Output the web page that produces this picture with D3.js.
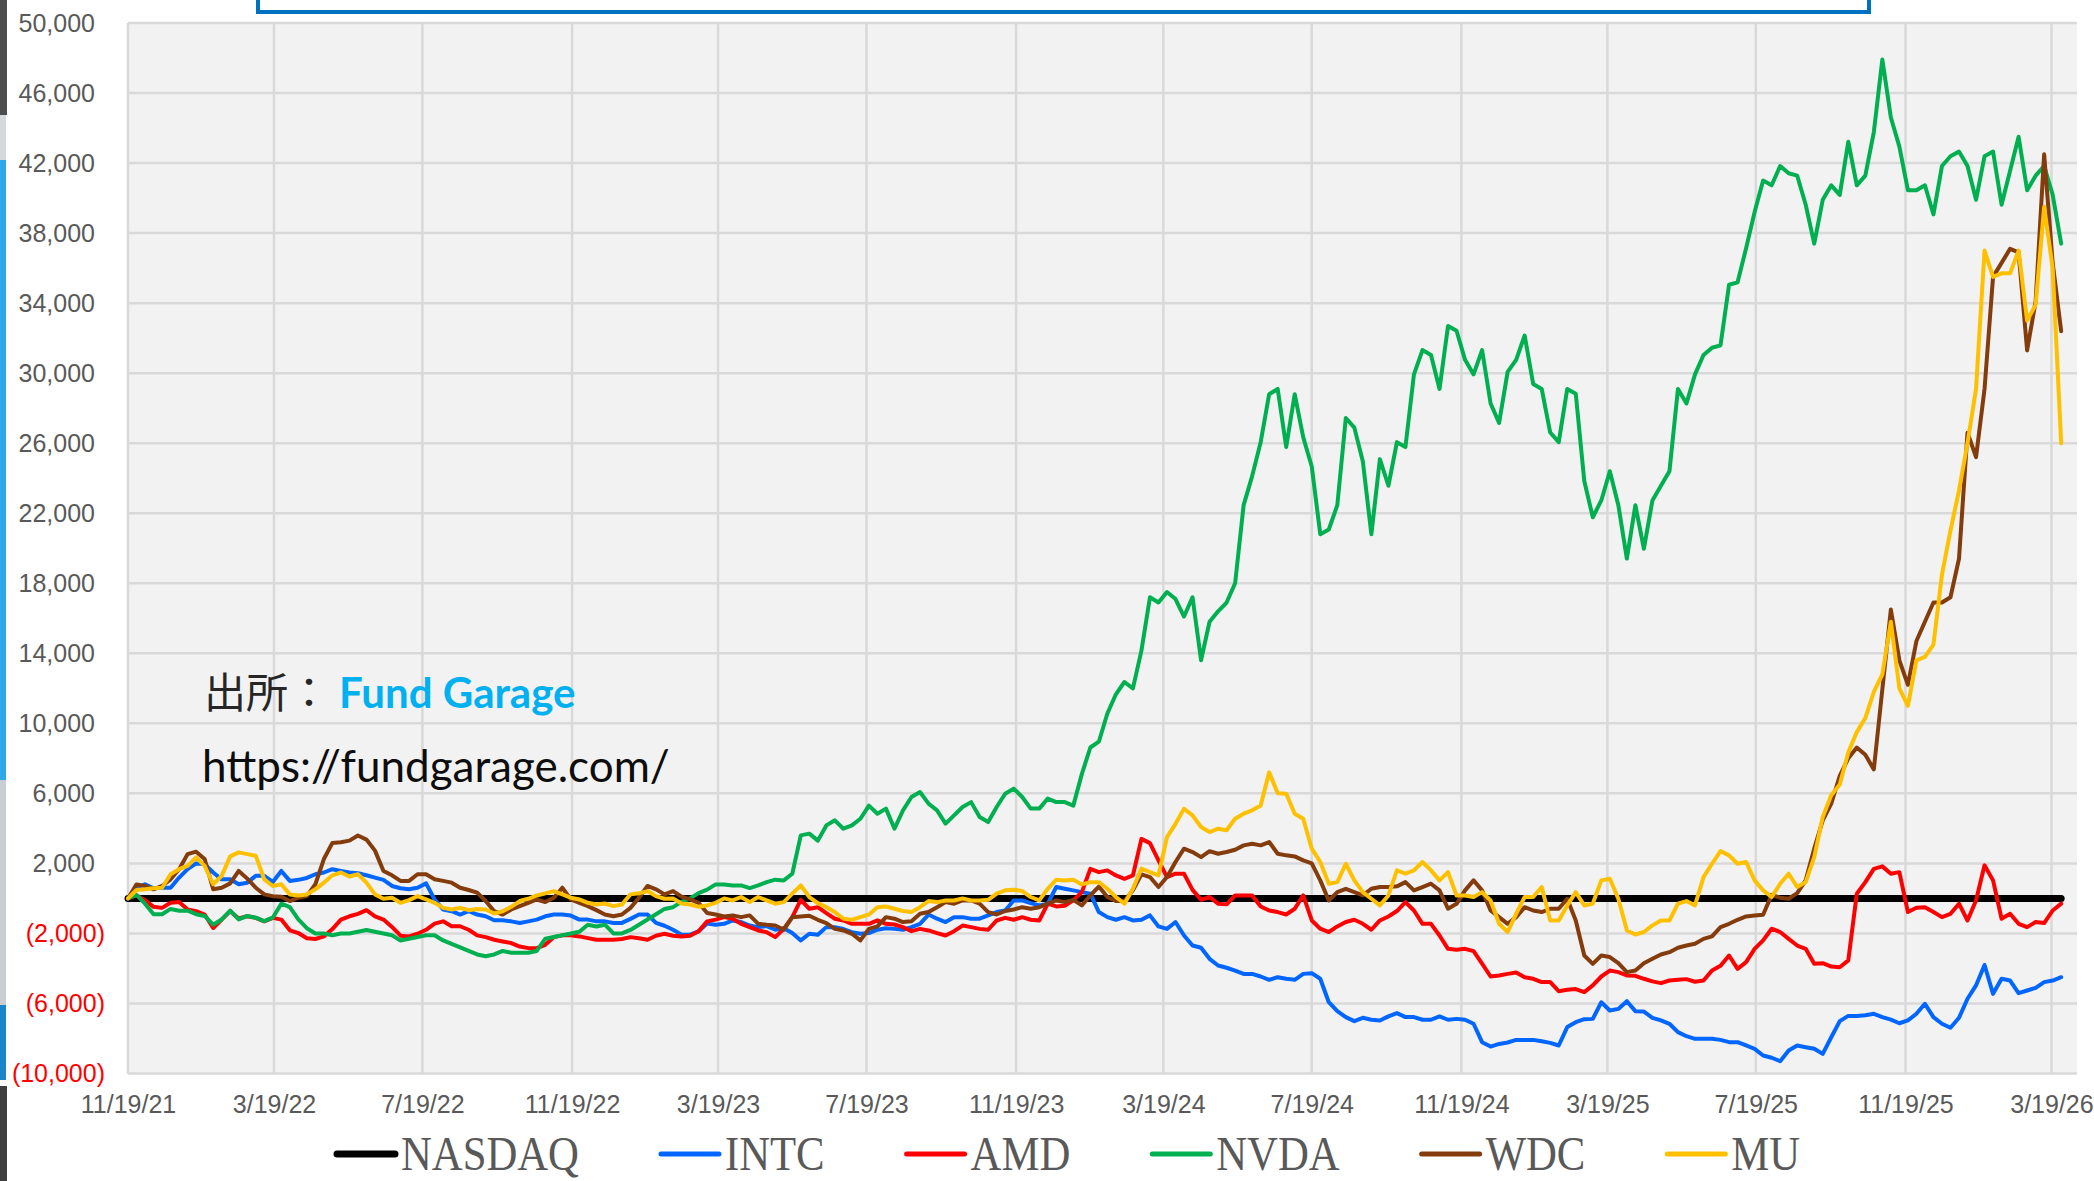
<!DOCTYPE html>
<html>
<head>
<meta charset="utf-8">
<script src="https://cdn.jsdelivr.net/npm/d3@7"></script>
<style>
  body { margin: 0; background: #fff; }
  svg { display: block; }
</style>
</head>
<body>
<div id="chartContainer"></div>
<script>
// weekly closes, difference vs NASDAQ (rebased), starting 11/19/21
var START_DATE = "2021-11-19";
var STEP_DAYS = 7;
var X_END = "2026-04-09";

var X_TICKS = ["11/19/21", "3/19/22", "7/19/22", "11/19/22", "3/19/23", "7/19/23", "11/19/23",
  "3/19/24", "7/19/24", "11/19/24", "3/19/25", "7/19/25", "11/19/25", "3/19/26"];
var Y_TICKS = [50000, 46000, 42000, 38000, 34000, 30000, 26000, 22000, 18000, 14000, 10000, 6000, 2000, -2000, -6000, -10000];

var SERIES_NAMES = ["NASDAQ", "INTC", "AMD", "NVDA", "WDC", "MU"];

// NASDAQ is the base line: first and last week
var NASDAQ_WEEKS = [0, 227];
var NASDAQ = [0, 0];

var INTC = [
  0, 610, 810, 580, 610, 610, 1190, 1670, 2000, 1960,
  1480, 1090, 1090, 810, 900, 1290, 1290, 940, 1570, 1000,
  1060, 1170, 1380, 1480, 1670, 1570, 1480, 1440, 1320, 1190,
  1060, 710, 580, 520, 610, 860, -60, -630, -730, -920,
  -730, -920, -1020, -1250, -1250, -1310, -1400, -1310, -1210, -1020,
  -920, -920, -980, -1210, -1210, -1310, -1310, -1400, -1400, -1170,
  -920, -920, -1400, -1560, -1790, -2070, -2070, -1880, -1440, -1500,
  -1450, -1260, -1350, -1550, -1640, -1580, -1790, -1700, -1980, -2400,
  -2020, -2080, -1640, -1640, -1750, -1930, -2020, -1980, -1790, -1700,
  -1740, -1790, -1640, -1450, -920, -1160, -1350, -1070, -1070, -1160,
  -1160, -970, -780, -690, -115, -115, -270, -400, -300, 650,
  550, 460, 360, 270, -780, -1070, -1220, -1070, -1260, -1220,
  -970, -1600, -1740, -1350, -2120, -2690, -2820, -3450, -3830, -3960,
  -4120, -4310, -4310, -4460, -4650, -4500, -4590, -4650, -4310, -4270,
  -4590, -5930, -6440, -6780, -7010, -6820, -6930, -6970, -6740, -6550,
  -6780, -6780, -6930, -6930, -6740, -6930, -6880, -6930, -7160, -8210,
  -8460, -8310, -8230, -8080, -8080, -8080, -8160, -8250, -8400, -7350,
  -7070, -6900, -6880, -5930, -6400, -6310, -5870, -6440, -6460, -6820,
  -6970, -7160, -7640, -7870, -8020, -8020, -8020, -8080, -8210, -8210,
  -8400, -8590, -8970, -9100, -9300, -8690, -8400, -8500, -8590, -8880,
  -7930, -7010, -6710, -6710, -6670, -6590, -6780, -6920, -7130, -6970,
  -6590, -6020, -6780, -7160, -7390, -6820, -5730, -4970, -3800, -5450,
  -4590, -4690, -5410, -5260, -5110, -4780, -4690, -4500
];

var AMD = [
  0, 170, -100, -480, -540, -250, -210, -630, -730, -920,
  -1690, -1210, -730, -1150, -1020, -1110, -1310, -1110, -1210, -1820,
  -1980, -2270, -2320, -2170, -1750, -1210, -1020, -880, -670, -1020,
  -1210, -1630, -2130, -2170, -2020, -1790, -1440, -1310, -1590, -1590,
  -1790, -2110, -2210, -2360, -2460, -2550, -2750, -2840, -2840, -2650,
  -2210, -2110, -2110, -2170, -2270, -2360, -2360, -2360, -2320, -2210,
  -2270, -2360, -2130, -2020, -2130, -2170, -2130, -1880, -1310, -1210,
  -1070, -1160, -1450, -1640, -1830, -1930, -2210, -1740, -1070, -80,
  -590, -500, -840, -1160, -1260, -1450, -1450, -1450, -1260, -1450,
  -1490, -1640, -1870, -1740, -1830, -1980, -2120, -1870, -1550, -1640,
  -1740, -1790, -1260, -1110, -1220, -1070, -1220, -1260, -300, -460,
  -420, -115, 360, 1690, 1500, 1600, 1310, 1120, 1310, 3400,
  3160, 2170, 1220, 1410, 1410, 490, -80, 80, -300, -340,
  170, 170, 170, -460, -690, -780, -920, -590, 170, -1260,
  -1730, -1920, -1600, -1350, -1220, -1450, -1790, -1260, -1030, -720,
  -210, -690, -1450, -1450, -2120, -2880, -2930, -2880, -3010, -3730,
  -4460, -4400, -4310, -4230, -4500, -4590, -4780, -4780, -5300, -5220,
  -5180, -5350, -4970, -4460, -4120, -4210, -4400, -4420, -4590, -4740,
  -4840, -4690, -4650, -4610, -4760, -4690, -4120, -3850, -3260, -4020,
  -3640, -2880, -2400, -1730, -1920, -2310, -2690, -2880, -3730, -3700,
  -3890, -3930, -3540, 270, 930, 1690, 1830, 1410, 1500, -780,
  -530, -500, -780, -1070, -880, -300, -1260, -120, 1890, 1030,
  -1160, -880, -1450, -1640, -1350, -1410, -690, -300
];

var NVDA = [
  0, 200, -300, -900, -900, -600, -700, -700, -900, -1000,
  -1500, -1200, -700, -1200, -1000, -1100, -1300, -1100, -300, -500,
  -1200, -1700, -2000, -2000, -2100, -2000, -2000, -1900, -1800, -1900,
  -2000, -2100, -2400, -2300, -2200, -2100, -2100, -2400, -2600, -2800,
  -3000, -3200, -3300, -3200, -3000, -3100, -3100, -3100, -3000, -2300,
  -2200, -2100, -2000, -1900, -1500, -1600, -1500, -2000, -2000, -1800,
  -1500, -1200, -900, -600, -500, -200, 0, 300, 500, 800,
  800, 740, 740, 590, 740, 930, 1070, 1030, 1410, 3600,
  3700, 3300, 4170, 4460, 3980, 4170, 4550, 5300, 4840, 5130,
  3980, 5030, 5790, 6080, 5410, 5030, 4270, 4740, 5220, 5500,
  4650, 4360, 5220, 5980, 6270, 5790, 5130, 5130, 5700, 5500,
  5500, 5300, 7100, 8620, 8950, 10560, 11660, 12360, 12000, 14150,
  17200, 16900, 17500, 17100, 16100, 17200, 13600, 15800, 16400, 16900,
  18000, 22460, 24120, 26060, 28800, 29100, 25780, 28800, 26330, 24670,
  20800, 21070, 22460, 27440, 26890, 24950, 20800, 25090, 23570, 26060,
  25780, 29930, 31320, 31040, 29100, 32700, 32420, 30760, 29930, 31320,
  28270, 27160, 30070, 30760, 32150, 29380, 29100, 26610, 26060, 29100,
  28830, 23840, 21770, 22730, 24400, 22460, 19410, 22460, 19970, 22730,
  23570, 24400, 29100, 28270, 29930, 31040, 31450, 31590, 35050, 35190,
  37130, 39200, 41000, 40730, 41830, 41420, 41280, 39620, 37400, 39900,
  40730, 40180, 43220, 40730, 41280, 43770, 47920, 44600, 42940, 40450,
  40450, 40730, 39070, 41830, 42390, 42660, 41830, 39900, 42390, 42660,
  39620, 41560, 43500, 40450, 41280, 41830, 40180, 37400
];

var WDC = [
  0, 800, 710, 520, 710, 1090, 1670, 2530, 2670, 2250,
  520, 610, 860, 1570, 1130, 610, 230, 130, 100, -150,
  40, 130, 810, 2250, 3170, 3210, 3300, 3590, 3360, 2730,
  1570, 1320, 1000, 1000, 1380, 1380, 1090, 1000, 900, 610,
  480, 330, -150, -730, -920, -630, -440, -250, -60, -210,
  40, 610, -60, -250, -440, -670, -920, -1020, -920, -540,
  40, 710, 520, 230, 420, 100, -60, -250, -830, -920,
  -1030, -970, -1070, -970, -1450, -1510, -1550, -1790, -1070, -1030,
  -990, -1220, -1410, -1740, -1830, -2020, -2400, -1740, -1600, -1070,
  -1160, -1350, -1300, -880, -780, -500, -210, -300, -115, -115,
  -300, -780, -920, -720, -630, -500, -590, -500, -300, -115,
  -210, -80, -400, 170, 680, 80, -150, -150, 460, 1370,
  1220, 650, 1220, 2080, 2840, 2650, 2360, 2700, 2550, 2650,
  2780, 3030, 3120, 3030, 3220, 2550, 2460, 2400, 2170, 2000,
  1030, -120, 360, 550, 360, 170, 550, 650, 650, 690,
  930, 460, 650, 840, 460, -590, -310, 460, 1030, 460,
  -690, -1070, -1450, -1070, -500, -690, -780, -590, -590, -20,
  -1260, -3260, -3740, -3260, -3350, -3700, -4210, -4120, -3700, -3450,
  -3200, -3070, -2820, -2690, -2590, -2310, -2170, -1640, -1450, -1220,
  -1030, -970, -930, 200, 40, -20, 300, 1030, 2840, 4460,
  5410, 7000, 8000, 8620, 8200, 7370, 11940, 16500, 13600, 12200,
  14700, 15800, 16900, 16900, 17200, 19400, 26600, 25200, 29100, 35500,
  36300, 37100, 36900, 31300, 34100, 42500, 36300, 32400
];

var MU = [
  0, 480, 520, 580, 610, 1380, 1670, 1860, 2340, 1860,
  810, 1290, 2400, 2630, 2530, 2440, 1090, 710, 810, 230,
  170, 230, 520, 900, 1320, 1480, 1250, 1380, 900, 230,
  -20, 40, -250, -100, 130, -60, -250, -540, -630, -540,
  -670, -600, -630, -860, -730, -480, -150, -20, 170, 290,
  420, 230, 40, -60, -250, -350, -290, -440, -350, 230,
  290, 420, 130, -20, 0, -290, -350, -480, -400, -250,
  0, -115, 80, -210, 80, -115, -300, -210, 270, 740,
  80, -270, -500, -780, -1160, -1220, -1070, -920, -500, -460,
  -590, -720, -780, -500, -150, -210, -115, -115, 0, -115,
  -115, -80, 270, 460, 500, 420, 80, -115, 550, 1070,
  1030, 1070, 800, 930, 930, 550, 80, -300, 550, 1700,
  1500, 1310, 3500, 4260, 5120, 4740, 4080, 3790, 3980, 3890,
  4550, 4840, 5030, 5310, 7200, 6000, 5980, 4840, 4550, 2840,
  2080, 840, 930, 1980, 1030, 360, -20, -400, 170, 1600,
  1410, 1600, 2080, 1600, 1030, 1500, 170, 170, 80, 360,
  -120, -1450, -1920, -880, 80, 80, 650, -1260, -1260, -400,
  360, -400, -300, 1030, 1120, -20, -1830, -2060, -1920, -1540,
  -1260, -1260, -300, -150, -400, 1220, 1980, 2700, 2460, 1980,
  2080, 1030, 460, 80, 840, 1410, 650, 930, 2360, 4650,
  5890, 6500, 8340, 9500, 10300, 11800, 12800, 15800, 12000, 11000,
  13600, 13800, 14500, 18500, 21000, 23300, 26000, 29100, 37000, 35500,
  35700, 35700, 37000, 33000, 33900, 39500, 36000, 26000
];

var COLORS = {NASDAQ: "#000000", INTC: "#0066ff", AMD: "#ff0000", NVDA: "#00b050", WDC: "#843c0c", MU: "#ffc000"};

function InitChart() {

  var WIDTH = 2094,
    HEIGHT = 1181,
    MARGINS = {top: 23, right: 17, bottom: 107, left: 128};

  var svg = d3.select("#chartContainer").append("svg")
    .attr("width", WIDTH)
    .attr("height", HEIGHT)
    .attr("id", "visualisation");

  var parseDay = d3.timeParse("%Y-%m-%d"),
    parseTick = d3.timeParse("%m/%d/%y"),
    startDate = parseDay(START_DATE);

  function weekDate(i) {
    return d3.timeDay.offset(startDate, i * STEP_DAYS);
  }

  var xRange = d3.scaleTime()
      .domain([startDate, parseDay(X_END)])
      .range([MARGINS.left, WIDTH - MARGINS.right]),
    yRange = d3.scaleLinear()
      .domain([-10000, 50000])
      .range([HEIGHT - MARGINS.bottom - 0.5, MARGINS.top]);

  // slide edge strip on the far left
  var strip = svg.append("g");
  strip.append("rect").attr("x", 0).attr("y", 0).attr("width", 7).attr("height", 115).attr("fill", "#4d4d4d");
  strip.append("rect").attr("x", 0).attr("y", 115).attr("width", 6).attr("height", 45).attr("fill", "#d6d9dc");
  strip.append("rect").attr("x", 0).attr("y", 160).attr("width", 6).attr("height", 620).attr("fill", "#2ea8e8");
  strip.append("rect").attr("x", 0).attr("y", 780).attr("width", 6).attr("height", 225).attr("fill", "#c9ced3");
  strip.append("rect").attr("x", 0).attr("y", 1005).attr("width", 6).attr("height", 75).attr("fill", "#1a86c9");
  strip.append("rect").attr("x", 0).attr("y", 1086).attr("width", 7).attr("height", 95).attr("fill", "#3f3f3f");

  // cut-off title box at the top
  svg.append("rect")
    .attr("x", 258).attr("y", -20)
    .attr("width", 1611).attr("height", 32)
    .attr("fill", "#fff")
    .attr("stroke", "#0070c0")
    .attr("stroke-width", 4);

  // plot area
  svg.append("rect")
    .attr("x", MARGINS.left)
    .attr("y", MARGINS.top)
    .attr("width", WIDTH - MARGINS.left - MARGINS.right)
    .attr("height", HEIGHT - MARGINS.top - MARGINS.bottom)
    .attr("fill", "#f2f2f2");

  var tickDates = X_TICKS.map(function (t) { return parseTick(t); });

  var grid = svg.append("g").attr("stroke", "#d9d9d9").attr("stroke-width", 2.5);
  grid.selectAll("line.h").data(Y_TICKS).enter().append("line")
    .attr("class", "h")
    .attr("x1", MARGINS.left).attr("x2", WIDTH - MARGINS.right)
    .attr("y1", function (d) { return yRange(d); })
    .attr("y2", function (d) { return yRange(d); });
  grid.selectAll("line.v").data(tickDates).enter().append("line")
    .attr("class", "v")
    .attr("y1", MARGINS.top).attr("y2", HEIGHT - MARGINS.bottom)
    .attr("x1", function (d) { return xRange(d); })
    .attr("x2", function (d) { return xRange(d); });

  var xAxis = d3.axisBottom(xRange)
      .tickValues(tickDates)
      .tickFormat(d3.timeFormat("%-m/%-d/%y"))
      .tickSize(0)
      .tickPadding(21),
    yAxis = d3.axisLeft(yRange)
      .tickValues(Y_TICKS)
      .tickFormat(function (d) {
        return d < 0 ? "(" + d3.format(",")(-d) + ")" : d3.format(",")(d);
      })
      .tickSize(0)
      .tickPadding(33);

  var gx = svg.append("g")
    .attr("class", "x axis")
    .attr("transform", "translate(0," + (HEIGHT - MARGINS.bottom) + ")")
    .call(xAxis);
  gx.select(".domain").remove();
  gx.selectAll("text")
    .style("font-family", "'Liberation Sans', Arial, sans-serif")
    .style("font-size", "25px")
    .attr("fill", "#595959");

  var gy = svg.append("g")
    .attr("class", "y axis")
    .attr("transform", "translate(" + MARGINS.left + ",0)")
    .call(yAxis);
  gy.select(".domain").remove();
  gy.selectAll("text")
    .style("font-family", "'Liberation Sans', Arial, sans-serif")
    .style("font-size", "25px")
    .attr("x", function (d) { return d < 0 ? -23 : -33; })
    .attr("fill", function (d) { return d < 0 ? "#ff0000" : "#595959"; });

  // source note
  svg.append("text")
    .attr("x", 204).attr("y", 708)
    .style("font-family", "'Noto Sans CJK JP', sans-serif")
    .style("font-size", "42px")
    .attr("fill", "#262626")
    .text("出所：");
  svg.append("text")
    .attr("x", 339).attr("y", 708)
    .style("font-family", "Lato, sans-serif")
    .style("font-weight", "bold")
    .style("font-size", "42px")
    .attr("fill", "#00b0f0")
    .text("Fund Garage");
  svg.append("text")
    .attr("x", 202).attr("y", 782)
    .style("font-family", "Lato, sans-serif")
    .style("font-size", "44px")
    .attr("fill", "#0d0d0d")
    .text("https://fundgarage.com/");

  var lineFunc = d3.line()
    .x(function (d) { return xRange(d.date); })
    .y(function (d) { return yRange(d.value); });

  function toPoints(values, weeks) {
    return values.map(function (v, i) {
      return {date: weekDate(weeks ? weeks[i] : i), value: v};
    });
  }

  var seriesData = {
    NASDAQ: toPoints(NASDAQ, NASDAQ_WEEKS),
    INTC: toPoints(INTC),
    AMD: toPoints(AMD),
    NVDA: toPoints(NVDA),
    WDC: toPoints(WDC),
    MU: toPoints(MU)
  };

  SERIES_NAMES.forEach(function (name) {
    svg.append("path")
      .attr("d", lineFunc(seriesData[name]))
      .attr("stroke", COLORS[name])
      .attr("stroke-width", name === "NASDAQ" ? 7 : 4)
      .attr("stroke-linejoin", "round")
      .attr("stroke-linecap", "round")
      .attr("fill", "none");
  });

  // legend
  var lx = 337, ly = 1154, sx = 0.89;
  SERIES_NAMES.forEach(function (name) {
    svg.append("line")
      .attr("x1", lx).attr("x2", lx + 58)
      .attr("y1", ly).attr("y2", ly)
      .attr("stroke", COLORS[name])
      .attr("stroke-width", name === "NASDAQ" ? 7 : 5)
      .attr("stroke-linecap", "round");
    var t = svg.append("g")
      .attr("transform", "translate(" + (lx + 64) + "," + (ly + 16) + ") scale(" + sx + ",1)")
      .append("text")
      .style("font-family", "'Liberation Serif', 'Times New Roman', serif")
      .style("font-size", "48px")
      .attr("fill", "#595959")
      .text(name);
    lx += 64 + t.node().getComputedTextLength() * sx + 82;
  });
}

InitChart();
</script>
</body>
</html>
